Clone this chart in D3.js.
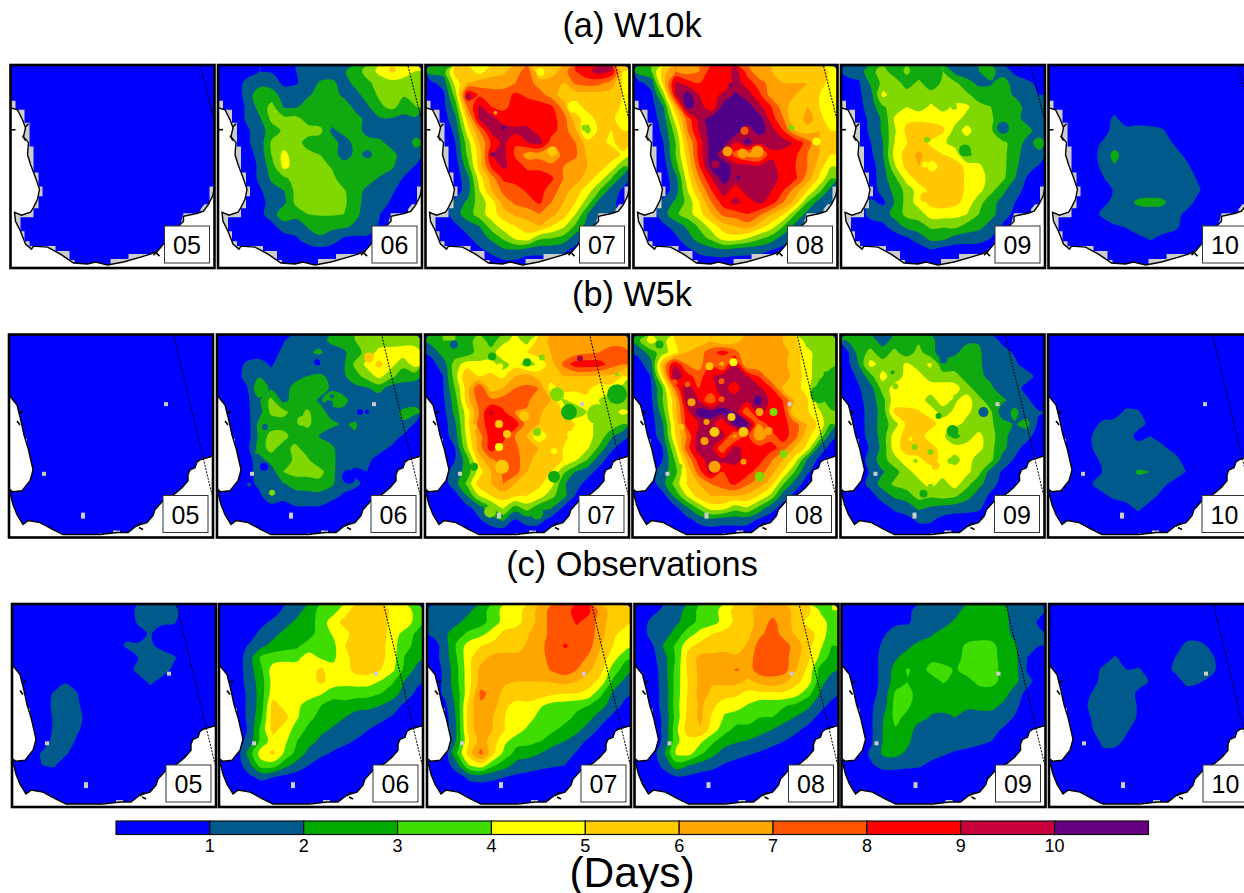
<!DOCTYPE html>
<html>
<head>
<meta charset="utf-8">
<script src="https://cdn.jsdelivr.net/npm/d3@7"></script>
<style>
html, body { margin: 0; background: #fff; overflow: hidden; }
text { font-family: "Liberation Sans", Arial, sans-serif; fill: #000; }
</style>
</head>
<body>
<div id="display"></div>
<script>
const titles = ['(a) W10k', '(b) W5k', '(c) Observations']
const days = ['05', '06', '07', '08', '09', '10']
const levels = [1, 2, 3, 4, 5, 6, 7, 8, 9, 10]
const barTicks = ['1', '2', '3', '4', '5', '6', '7', '8', '9', '10']
const barUnit = '(Days)'

// days with rain on a 17x17 grid; rows may stop early, the rest is below 1 day
const w10k_05 = [[]]
const w10k_06 = [
[.5,.5,.5,1,.9,.9,1,1.5,1.5,1.5,1.9,2.5,3.5,4.3,5.2,4.6,4],
[.5,.5,1.4,1.6,1.5,.8,.9,1.5,2.1,2.2,1.6,2.3,2.8,3.5,3.6,3.5,3],
[.5,.5,1.5,2.8,2.5,1.5,1.6,1.9,2.3,2.4,1.8,1.7,2.5,3.2,3.5,3.1,3],
[.5,.5,1.2,2.5,3.3,1.9,1.9,2.4,2.4,2.5,2.5,1.7,1.9,2.8,3.3,2.5,3],
[.5,.5,1.2,1.9,3.3,3.3,3.3,2.6,2.4,2.5,2.5,2.3,1.7,1.9,1.9,1.7,1.8],
[.5,.5,.9,1.6,2.5,3.2,3.4,3.4,3.3,1.8,2.3,2.3,1.7,1.5,1.4,1.5,1.6],
[.5,.5,.9,1.5,3.2,3.5,3.4,2.6,2.4,2.4,1.6,2.3,2.3,2.2,1.6,1.4,2.3],
[.5,.5,.6,1.4,3.1,4.3,3.4,3.3,3,2.4,1.6,2.2,1.8,2.4,2.3,1.5,1.6],
[.5,.5,.5,1.2,2.6,4.3,3.6,3.5,3.4,2.9,2.4,2.4,2.4,2.4,2.1,1.5,.9],
[.5,.5,.5,1.2,2.2,2.8,3.4,3.5,3.5,3.3,2.4,2.4,2.3,1.9,1.6,.9,.6],
[.5,.5,.5,.9,1.6,2,3.3,3.4,3.5,3.4,3.1,2.3,1.8,1.5,1.1,.7],
[.5,.5,.5,.6,1.5,1.7,3.3,3.5,3.5,3.4,3.2,2.3,1.6,1.3,.9],
[.5,.5,.5,.8,1.4,2.9,2.3,3,3.1,3.1,3,2.2,1.5,1,.6],
[.5,.5,.5,.5,.8,1.4,1.5,2.1,2.3,2.2,2.2,1.8,1.6,.8],
[.5,.5,.5,.5,.5,.7,.9,1.6,1.9,1.6,.9,.8,.8],
[.5,.5,.5,.5,.5,.5,.5,.5,.7],
[]]
const w10k_07 = [
[2.5,2.5,5.5,5.5,4.5,5.5,5.8,6.5,7.5,5,5.5,6.5,8,8.8,9.5,9,5],
[.8,1.4,4.5,6,6.5,6.5,6.5,7,7.5,6.5,6.5,6,7.2,7.5,7.3,6.5,4.8],
[.5,.8,3.5,9,7.8,7.5,7.5,8.2,7.8,7.5,6.5,5.5,5.5,5.5,5.5,5.5,5],
[.5,.7,2.5,7,9.2,8,7.8,8.3,8.5,8.4,8.2,6.5,4.5,5.5,5.5,5.5,4.8],
[.5,.5,1.8,5.5,9.2,9.5,8.4,8.4,8.5,8.3,8.4,7.5,5.5,4.4,5.5,5.3,4.3],
[.5,.5,1.2,4.5,7,9.3,9.6,9.3,9.3,8.5,8.4,7.5,6.2,3.5,5.4,5,5],
[.5,.5,1,3.5,6,8.2,9.3,8.1,9,9.5,7.5,7.5,7,5.5,5.3,4.8,5.5],
[.5,.5,.8,3.2,5.5,9,9.3,7.8,6.5,6.5,6.2,7.3,7.2,5.8,5.5,5.5,4.8],
[.5,.5,.5,2.5,5.5,8.2,9.2,8.5,7.8,7.8,7.3,7,6.5,6,5.5,4.6,3],
[.5,.5,.5,1.6,4.5,6.5,8.2,8.5,8.5,8.4,8.2,7,6.5,5.5,4.5,3,1.5],
[.5,.5,.5,1.5,4,6,7.3,7.5,8.2,8.4,7.5,6.5,5.5,4.5,3,1.5,.8],
[.5,.5,1.3,2.2,3.5,4.5,6.5,7.2,7.5,8.2,7,6,5,3.5,1.6,1.2,.7],
[.5,.5,1.6,2.5,3.5,4.5,5.5,6.2,6.5,7,6.3,5.5,4,2,1.4,1.2,.6],
[.5,.5,.8,1.5,2,3.5,4.5,5,5.5,6,5,4.2,2.8,1.6,.8],
[.5,.5,.5,.8,1.5,2.2,3.2,4.2,4.6,3.2,3,2.6,1.5],
[.5,.5,.5,.5,.8,1.3,1.8,1.9,1.5,1.4,1.4,1.2,.7],
[.5,.5,.5,.5,.5,.5,.8,.8]]
const w10k_08 = [
[2.5,3,5.5,7,6.5,7,8.5,8.2,9.5,7.5,6,6,5,5.5,5.5,6,4.6],
[.8,1.4,5.5,9.2,8.5,8,8.5,8,9.5,8.5,7.5,6.5,6,6,6,5.5,4.5],
[.5,.8,3.5,9,10.5,9,8.5,9.3,10.2,9.5,8.2,6.5,6.2,6,5.5,5,4.5],
[.5,.6,2,6,10.5,9.5,8.2,10.5,10.5,10.5,9.3,8,6.3,5.5,6,5,4.3],
[.5,.5,1.5,4.5,7.5,9.5,10.5,10.5,10.5,10.5,10.5,8.5,7,5,6.5,5.5,4],
[.5,.5,1.2,3.5,7,9.2,10.5,10.5,10.5,9.5,10.5,9.5,8,6,5.5,6,5],
[.5,.5,1,3,6,8.5,10.5,10.5,9,10.4,9.2,9.3,9.5,8.8,7.5,6,5.5],
[.5,.5,.8,3,5.5,8.5,10.5,9.5,7.5,6.5,6.5,8.8,8.5,8.2,7,6,5],
[.5,.5,.5,2.5,5,8,10.4,10.5,9.6,9.5,9.2,9.3,8.5,8,7,5.5,4],
[.5,.5,.5,1.6,4.5,7,9,10.5,9.5,10,9.5,9.5,8.6,8.2,6.5,4.8,3],
[.5,.5,.5,1.5,4,6,8,9.5,8.5,9.5,9.5,9,8,6.5,5,3.3,1.5],
[.5,.5,1.3,2.2,3.3,5,7,8.5,9.3,8.5,9.3,8.5,7,5.5,3,1.5,1.2],
[.5,.5,1.6,2.8,3.5,4.6,6,7.3,7.5,8,7.2,6,5,3,1.6,1.2,.8],
[.5,.5,.8,1.4,2.2,3.2,4.5,5.5,6,6.5,5.5,4.5,3,1.6,1],
[.5,.5,.5,.8,1.6,2.5,3.3,4.5,4.6,4,3.2,2.5,1.5,.7],
[.5,.5,.5,.5,.8,1.3,1.6,1.8,1.5,1.4,1.3,1,.7],
[]]
const w10k_09 = [
[1.5,1.4,2.8,3.3,2.5,3.2,2.4,2.5,3,1.6,1.5,2,2.4,1.4,.8,.7,.6],
[.5,.9,2.2,3.3,3.4,2.6,3.2,2.4,3.2,3.2,2.3,1.8,1.9,2.6,1.4,1.1,.9],
[.5,.8,1.7,4.3,3.4,3.4,3.5,3.4,3.4,3.4,3.2,2.5,2.4,2.3,1.9,1.5,1],
[.5,.7,1.5,2.9,3.4,4,3.5,4.2,3.6,4.2,4.2,3.3,3,2.6,2.4,1.7,1.4],
[.5,.5,1.3,2.2,4.2,4.8,4.8,4.6,4.6,4.4,3.6,3.3,3.2,2.2,2.3,1.7,1.4],
[.5,.5,1.2,2.2,3.9,5.3,5.6,5.7,5.2,3.6,4.3,3.5,3.2,1.7,2.4,2.3,1.6],
[.5,.5,1,2,4.1,5,5.5,4.8,4.2,3.5,3.6,3.4,3.3,3.2,2.6,1.7,2.3],
[.5,.5,.8,2,4.4,5.5,6.2,5.4,5,4.6,2.7,3.4,3.4,3.3,2.3,1.6,1.8],
[.5,.5,.6,1.6,3.9,5.4,6,4.6,5.3,5.5,4.7,4.2,3.4,3.3,2.2,1.4,.9],
[.5,.5,.5,1.6,2.8,4.5,5.4,5.5,5.7,5.6,4.8,4.6,3.5,3.2,2,.9,.6],
[.5,.5,.5,1.4,2.3,3.4,4.5,5.3,5.6,5.8,4.7,4.3,3.3,2.2,1.4,.7],
[.5,.5,1.2,.8,2.1,3.4,4.5,5.3,5.5,5.3,4.6,3.4,2.3,1.7,1],
[.5,.5,1.4,1.5,2.4,3.3,3.5,4.5,4.5,4.3,4,3,2.3,1.5,.7],
[.5,.5,.5,.8,1.5,2.3,2.6,3.2,3.1,3.3,2.6,2.3,1.6,.8],
[.5,.5,.5,.5,.5,.9,1.5,2.3,2.3,1.6,1.5,1.4,1],
[.5,.5,.5,.5,.5,.5,.5,.9],
[]]
const w10k_10 = [[],[],[],[],
[.5,.5,.5,.5,.5,1.2],
[.5,.5,.5,.5,.5,1.4,1.3,1.4,1.3,1.1],
[.5,.5,.5,.5,1.1,1.5,1.5,1.5,1.5,1.4,.9],
[.5,.5,.5,.5,1.4,2.3,1.5,1.5,1.5,1.5,1.3,.8],
[.5,.5,.5,.5,1.2,1.9,1.6,1.5,1.5,1.5,1.5,1.2],
[.5,.5,.5,.5,.9,1.5,1.5,1.5,1.5,1.5,1.5,1.4,.9],
[.5,.5,.5,.5,.5,1.1,1.5,1.5,1.5,1.5,1.5,1.5,1.1],
[.5,.5,.5,.5,.8,1.2,1.7,2.2,2.3,2.2,1.5,1.4,.7],
[.5,.5,.5,.5,1.2,1.5,1.5,1.5,1.5,1.5,1.3,.8],
[.5,.5,.5,.5,.5,.9,1.1,1.5,1.5,1.4,1.3],
[.5,.5,.5,.5,.5,.5,.5,.8,1.1,.8],
[],[]]

const w5k_05 = [[]]
const w5k_06 = [
[.5,.5,.5,.6,.6,.9,1.5,1.4,1.6,2.2,2.5,3,3.4,3.5,3.4,3.5,3.4],
[.5,.5,.5,.5,.6,1.2,1.4,1.8,2.2,1.5,1.8,2.5,3.4,4.3,4.5,4.6,4.6],
[.5,.5,1.2,1.4,.9,1.4,1.6,1.4,.9,1.6,1.8,3.2,4.3,5.3,4.4,3.3,4.5],
[.5,.5,1.4,1.9,1.3,1.2,1.7,2,2.3,1.7,1.8,2.6,3.4,4.3,3.3,2.4,2.3],
[.5,.5,.9,2.8,1.8,1.6,2.3,2.6,2.4,1.9,1.5,1.7,1.9,2.4,1.5,1.6,1.5],
[.5,.5,.8,1.8,3.3,1.7,2.4,2.4,1.9,2.3,2.4,1.4,1.3,1.4,1.4,1.4,1.6],
[.5,.5,.8,1.6,3.2,3.4,2.4,3.2,2.4,1.7,1.7,1.5,.9,1.4,1.5,2.2,2.3],
[.5,.5,.5,2.3,2.4,2.4,2.2,3.4,2.2,2.2,1.9,2.1,1.5,1.4,1.4,1.9,.9],
[.5,.5,.5,2.2,3.4,3.5,2.4,2.2,2,1.6,1.5,1.9,1.9,1.4,1.5,.9],
[.5,.5,.7,2.4,3.4,2.5,3.3,2.5,2.4,2.2,1.5,1.6,1.5,1.3,.9],
[.5,.5,.5,1.6,2.4,2.4,3.2,3.2,2.2,2.3,1.5,1.4,1.2,.7],
[.5,.5,.7,1.3,1.4,3,3.4,3.5,3.5,2.3,1.4,.8,1,.6],
[.5,.5,.5,1.3,1.6,1.9,2.4,2.3,2.6,2.2,1.4,1.3,.6],
[.5,.5,.5,.7,2,1.4,1.6,1.8,1.7,1.4,.9],
[.5,.5,.5,.5,.5,.5,.9,.9,.9],
[],[]]
const w5k_07 = [
[2.5,3,3,2.5,3.5,2.6,3.5,4.5,3.5,5.5,6.2,6.8,6.4,6.2,6.5,6.5,6.6],
[1.2,2.5,2.3,2.4,3.5,3.3,5,4.5,5,5.5,6,6.3,6.5,6.8,7,7.5,7.3],
[.7,1.4,3.5,4.5,4.2,4.5,3.4,4.6,3.4,4.3,5.5,7.2,8.5,8.6,8.5,7.5,7],
[.5,1,3.5,6,5,5.2,4.8,6,6.5,5.5,5.5,6,6,6,5.8,5.8,5],
[.5,.9,3,5.5,8,5.5,6,7,7.2,7,4.5,5.5,5.2,5.2,4.6,4.6,3.5],
[.5,.8,2.5,5.5,7.5,7.3,7.5,7.1,7.3,6,6,3.8,4.5,4.8,4,3.2,3],
[.5,.6,2.3,4.5,7,9.2,8.2,7,6.8,6.2,5.5,5,3,4,4.5,3.5,4.3],
[.5,.5,1.8,4.5,7.5,8.5,8.3,8.7,6.5,6,5.8,5.5,5,4.6,3.5,3.8,3],
[.5,.5,1.5,4.3,6.5,8.6,8.5,7,6,4,5.5,5.2,4.8,4.2,3.8,2.2,1.3],
[.5,.5,1,3.8,6.5,8.5,7.5,7.2,6.5,6,5.5,5,4.6,4.2,2.8,1.2,.6],
[.5,.5,1,2.5,5.5,6.8,7.5,7.5,6.3,5.6,5.5,5,4.2,3,1.4,.6],
[.5,.5,1.5,2.4,4.5,6,7.2,7.5,6,5.6,5,3.3,2,1.4,.7],
[.5,.5,1.6,3.2,5.5,6,7,6,5.6,5.2,4.5,2.2,1.4,.7],
[.5,.5,.6,2,4,5,5.5,5.2,5,4.6,3.3,2.4,1],
[.5,.5,.5,.7,1.5,2.8,4.2,2.5,3.5,2.3,2.1,.9],
[.5,.5,.5,.5,.9,1.6,2.2,1,1.5,1.4,.7],
[]]
const w5k_08 = [
[2.8,4.5,3.5,5,5,5.5,6,5,5.5,6.5,6.5,6.3,6,5.5,3.4,3.3,3.5],
[1.2,2.5,3.5,4.6,6,6.5,7.5,8.5,7.5,6,6,7,6.5,5.5,4.5,3.4,3.3],
[.7,1.5,6,9,7,6.5,8,6.5,9.5,6,6,6.5,6.3,5.5,4.5,3.4,3.3],
[.5,1,5,10,8.5,7.5,8.8,9.5,9.4,9.2,8,6.2,6.5,5.7,4.6,3.3,2.5],
[.5,.8,3,7,10,8,8.6,9.4,8.5,9.6,9.3,8.2,6,5.5,4.6,2.6,2.4],
[.5,.7,3,5.5,9.5,9,7,9.3,9.5,9.3,10.5,8.7,8,6,5.2,3.5,2.4],
[.5,.5,2.5,5.5,8.5,10.5,10.5,10.4,10,7,9.5,8.3,8.7,5,5.2,4.2,3.2],
[.5,.5,1.8,5,8.3,9,9.6,8,10.4,10.5,7,8.5,8.4,7.5,6,4.8,3],
[.5,.5,1.5,4.8,7,9.6,9.4,9.6,6.5,8.5,6,7.5,8.5,7.5,5.5,4,1.5],
[.5,.5,1,3.8,7.5,9.5,9.7,7,9.5,8.5,8.5,8.5,7.5,6,4.8,1.8,.6],
[.5,.5,1,3,6,8.5,9.5,9.3,9.5,8.5,8.5,7.2,6,4.6,2,.8],
[.5,.5,1.6,2.5,5,7.5,9.3,8,8.3,8.5,7.5,6.5,5,3,1.2],
[.5,.5,1.6,3.3,5,6,7,7.6,8.2,7.2,6.5,5.5,3.2,1.6,.6],
[.5,.5,.6,2.2,4,5.5,6,6,6,5.8,5,3.8,1.6,.7],
[.5,.5,.5,.7,1.8,3.2,4.5,4.5,3.5,4,2.8,1.5,.6],
[.5,.5,.5,.5,.7,1.3,1.8,1.5,1.5,1.5,.9],
[]]
const w5k_09 = [
[2,2.4,2.4,1.6,2.3,2.3,2.8,2.3,1.5,1.5,1.9,1.9,1.4,.8],
[.7,2.4,3.3,2.4,3.3,2.4,3.4,2.3,1.6,1.9,2.2,2.2,1.4,1.3,.9],
[.6,2,4.4,3.5,3.3,4.2,3.5,4.2,2.4,2.3,2.1,2.2,1.5,1.5,1.2,.6],
[.5,1.2,2.6,4.4,3.4,4.3,4.4,3.5,3.4,3.5,2.4,2.2,1.8,1.5,1.5,1.4,.7],
[.5,.9,1.6,3.4,4.4,4.5,4.6,4.6,4.6,4.4,3.5,2.4,2.2,1.5,1.4,.7],
[.5,.7,1.5,2.6,4.6,4.5,4.6,3.5,4.5,3.8,4.5,3.4,2.4,2.2,1.5,1.2],
[.5,.6,1.4,2.4,5.2,5.3,5.1,4.6,3.5,4.2,4.3,3.4,3.2,1.4,2.3,1.4,1.1],
[.5,.6,1.4,2.5,3.5,5.2,5.5,5.4,4.6,4.5,3.6,3.4,3.2,2.4,1.9,2.4,.8],
[.5,.5,1.4,2.4,4.5,5.4,5.5,4.5,4.4,2.5,3.5,4.3,3.4,2.4,1.5,1.4],
[.5,.5,1.1,2.3,4.5,5.5,5.5,5.4,4.6,4.6,4.4,4.4,3.3,2.3,1.4,.6],
[.5,.5,1.4,2.6,3.6,4.6,4.8,5.3,4.8,3.5,4.6,3.4,3.3,1.6,.9],
[.5,.5,1.1,1.9,2.6,3.6,4.5,4.6,4.6,4.6,4.3,3.4,1.6,.9],
[.5,.5,1.4,2.4,3.2,3.5,3.6,4.5,3.5,4.5,3.4,2.3,1.5,.6],
[.5,.5,.6,1.5,2.2,2.5,3.4,3.2,3.4,3.2,2.4,1.6,.8],
[.5,.5,.5,.6,1.2,1.5,2.2,1.9,1.7,1.5,1.4,1.2],
[.5,.5,.5,.5,.5,.7,1.2,1.2,.7],
[]]
const w5k_10 = [[],[],[],[],[],[],
[.5,.5,.5,.5,.5,.5,1.2,1.1],
[.5,.5,.5,.5,1.2,1.4,1.4,1.3,.8],
[.5,.5,.5,.9,1.5,1.5,1.5,.7,1,.6],
[.5,.5,.5,.9,1.4,1.6,1.5,1.4,1.5,1.2,.7],
[.5,.5,.5,.5,1.2,1.5,1.5,1.5,1.5,1.5,1.4,.6],
[.5,.5,.5,.5,1,1.4,1.5,2.1,2,1.5,1.4,1],
[.5,.5,.5,.9,1.4,1.5,1.7,1.7,1.4,1.2,.8],
[.5,.5,.5,.5,.8,1.2,1.4,1.4,1.3,.8],
[.5,.5,.5,.5,.5,.5,.7,1.2,.7],
[],[]]

const obs_05 = [
[.5,.5,.5,.5,.5,.5,.5,.5,.5,.5,1.2,1.4,1.1,1.3],
[.5,.5,.5,.5,.5,.5,.5,.5,.5,.5,1.1,1.4,1.2,1.1],
[.5,.5,.5,.5,.5,.5,.5,.5,.5,.8,.7,1.1],
[.5,.5,.5,.5,.5,.5,.5,.5,.5,1.1,1.1,1.2,.7],
[.5,.5,.5,.5,.5,.5,.5,.5,.5,.5,1,1.4,1.5,1.1],
[.5,.5,.5,.5,.5,.5,.5,.5,.5,.5,1.3,1.5,1.4,.8],
[.5,.5,.5,.5,.9,.5,.5,.5,.5,.5,.5,1.2,.7],
[.5,.5,.5,1.1,1.5,1],
[.5,.5,.5,1.2,1.5,1.1],
[.5,.5,.5,1.1,1.5,1.3],
[.5,.5,.5,1.1,1.5,1.1],
[.5,.5,.5,1.3,1.5,.8],
[.5,.5,1.1,1.5,1.1],
[.5,.5,1,1.1],
[],[],[]]
const obs_06 = [
[.5,.5,.5,.5,.5,1.2,1.5,2.5,3.3,3.5,4.6,5.5,5.5,5.4,4.8,4.6,3.5],
[.5,.5,.5,.7,1.2,1.5,2.3,2.6,3.4,4.6,5.3,5.5,5.5,5.5,4.6,4.7,3.5],
[.5,.5,.5,1.3,1.6,2.4,2.5,2.6,3.5,4.1,4.7,5.5,5.5,5.5,4.5,3.6,2.8],
[.5,.5,1.1,1.7,2.4,2.6,2.8,3.5,3.5,3.7,5,5.5,5.5,5.4,4.3,3.4,2.6],
[.5,.5,1.5,3.2,3.5,3.7,3.8,4.4,3.9,3.8,4.7,5.5,5.5,5.3,4.4,2.9,2.3],
[.5,.5,1.5,2.8,4.5,4.6,4.4,4.5,5.2,4.3,4.6,5.4,5.4,5,4.2,2.7,1.7],
[.5,.5,1.4,2.5,4.4,4.5,4.6,4.6,5.2,4.6,4.3,4.4,4.4,3.9,3.1,1.9,1.2],
[.5,.5,1.2,2.5,4.6,4.2,4.3,4.4,4.1,3.4,3.5,3.4,3.3,3,2.5,1.5,.8],
[.5,.5,1.2,2.5,5.4,4.7,4.2,3.6,3,2.6,2.6,2.4,2.3,2,1.4,.8],
[.5,.5,1.2,2.8,5.5,5.3,4.1,3.3,2.6,2.3,2,1.5,1.4,1.2,.9],
[.5,.5,1.1,3.3,5.4,4.5,3.6,2.7,2.2,1.9,1.4,1.3,1,.7],
[.5,.5,1.4,3.3,4.5,4.2,3,2.3,1.8,1.4,1.2,.9,.7],
[.5,.5,2.4,4.5,5.2,3.8,2.6,1.7,1.2,.9,.6],
[.5,.5,1.6,3.5,3.5,2.3,1.6,1,.6],
[.5,.5,.8,1.2,1,.7],
[],[]]
const obs_07 = [
[1.5,1.4,1.4,1.8,2.5,3.5,4.4,4.6,5.5,6.4,7.5,7.7,8.3,8.2,6.5,5.5,5.5],
[1.5,1.4,1.8,2.4,2.6,3.5,4.4,4.7,5.5,6.5,7.5,7.6,8.1,7.7,6.4,5.5,5.4],
[1.2,1.8,2.6,3.2,3.7,4.5,5.3,5.5,6,6.5,7.5,7.6,7.7,7.6,6.3,5.3,4.5],
[.5,1.5,3.2,4.5,5,5.3,5.5,5.6,6.2,6.8,7.5,8.1,7.7,7.4,6,5,4.5],
[.5,1.5,3,4.8,5.6,6.3,6.4,6.3,6.5,6.8,7.3,7.6,7.6,6.8,5.6,4.5,3.2],
[.5,1.2,2.8,4.7,6.4,6.5,6.4,6.4,6.4,6.5,7.2,7.6,7,6.2,5.3,3.5,2.6],
[.5,1.2,2.8,4.7,6.4,6.5,6.2,6,6,6,6.1,6.3,6,5.5,4.6,2.8,1.7],
[.5,1.2,2.5,4.8,7.3,6.6,5.6,5.6,5.6,5.5,5.2,5,5,4.6,3.2,1.8,1.2],
[.5,.8,2.3,5.5,6.8,6.4,5.2,4.6,4.7,4.1,3.6,3.5,3.3,3,2.4,1.4,.8],
[.5,.5,2.2,5.6,6.6,6,5,4.5,4.4,3.5,3.4,3.4,2.7,2.3,1.4,.8],
[.5,.5,2.1,5.5,6.7,6,5,4.5,3.7,3.3,3.2,2.6,2.3,1.5,.8],
[.5,.5,2.2,5,6.5,5.5,4.2,3.4,3.3,3,2.3,2,1.4,.8],
[.5,.5,3,5.5,7.3,5.2,3.6,2.6,2.4,2,1.6,1.4,.9],
[.5,.5,1.6,4,4.6,3.2,2.4,1.6,1.4,1.2,1.1,1,.7],
[.5,.5,.6,1.2,1.4,1.2,1,.8,.7,.6],
[],[]]
const obs_08 = [
[.5,.7,1.2,1.5,2.4,3.3,3.5,4.5,5.4,5.6,6.6,6.6,6.5,5.5,5.3,3.8,4],
[.5,1.3,1.5,1.8,2.6,3.3,3.6,4.4,5.3,5.5,6.6,7.2,6.6,5.5,4.7,4.5,3.5],
[.5,1.4,1.5,2.5,3.5,4.4,5,5.3,5.4,5.8,6.8,7.5,6.6,5.8,5.4,4.6,3.3],
[.5,.9,2.2,3.2,4.8,5.3,5.4,5.7,5.5,6.2,7.5,7.8,7.4,6.5,5.3,4.2,3],
[.5,.7,1.7,3.2,5.4,6.3,6.4,6.3,6.2,6.6,7.6,7.7,7.4,6.3,5.2,3.7,2.5],
[.5,.5,1.6,3.4,5.3,6.3,6.4,6.5,7.1,6.6,7.6,7.4,7.4,6,4.7,2.6,2.2],
[.5,.5,1.5,3.5,5.1,6.3,6.1,6.2,6.3,5.8,6.3,6.7,6.2,5.3,4.4,2.4,1.4],
[.5,.5,1.4,3.5,5.2,6.4,5.8,5.6,5.2,4.7,4.8,4.8,4.8,4.4,3.3,1.9,1.3],
[.5,.5,1.4,3.6,5.3,6.2,5.3,4.3,4.4,3.9,3.3,3.3,3.1,2.7,2.2,1.3,.7],
[.5,.5,1.2,3.5,5.4,6.2,4.8,3.9,3.5,3.4,3,3,2.4,1.9,1.4,.7],
[.5,.5,1.2,3.8,5.6,5.9,4.5,3.4,2.7,2.7,2.4,2,1.5,1.2,.7],
[.5,.5,1.2,3.8,4.6,4.2,3.2,2.4,2.1,1.9,1.5,1.3,1,.6],
[.5,.5,2,4.2,4.4,3.2,2.3,1.6,1.4,1.1,.9,.6],
[.5,.5,1.3,2.6,2,1.6,1.3,.9,.6],
[.5,.5,.6,.9,.8,.6],
[],[]]
const obs_09 = [
[.5,.5,.5,.5,.5,.8,1.3,1.4,1.4,1.6,2.4,2.4,2.4,2.3,1.4,1.4,1.2],
[.5,.5,.5,.5,.8,.9,1.3,1.4,1.6,2.2,2.4,2.4,2.4,2.3,1.6,1.3,.9],
[.5,.5,.5,.9,1.4,1.4,1.5,1.9,2.4,2.5,2.5,2.5,2.5,2.4,1.7,1.4,1.1],
[.5,.5,.5,1.2,1.5,1.8,2.3,2.4,2.5,2.6,3.2,3.4,3.3,2.5,2.1,1.3,1],
[.5,.5,.5,1.4,1.9,2.4,2.5,2.8,2.6,2.7,3.3,3.5,3.4,2.6,2.2,1,.6],
[.5,.5,.5,1.4,2.3,3.1,2.6,3.3,3.3,2.9,3.4,3.3,3.4,2.7,2.3,.9],
[.5,.5,.5,1.4,2.4,3,2.5,2.6,3.1,2.6,2.7,3.3,3.4,2.6,2.2,1.3],
[.5,.5,.7,1.4,3.2,3.4,2.5,2.4,2.4,2.4,2.4,2.5,2.4,2.4,1.5,.7],
[.5,.5,.9,1.5,3.4,3.2,2.4,2.3,2.3,2.3,2.2,2.2,2.3,1.8,1.2],
[.5,.5,.9,2,3.3,2.7,2.3,1.9,1.8,2,1.6,1.7,1.6,1.4,.9],
[.5,.5,.9,2.1,2.9,2.4,1.6,1.4,1.4,1.4,1.4,1.4,1.3,.9],
[.5,.5,.9,2.1,2.3,2.2,1.4,1.4,1.4,1.4,1.3,1.2,1],
[.5,.5,1.2,2.2,2.3,1.8,1.4,1.3,1.1,.9,.8,.6],
[.5,.5,.9,1.3,1.3,1.2,1.1,.8,.6],
[],[],[]]
const obs_10 = [[],[],[],
[.5,.5,.5,.5,.5,.5,.5,.5,.5,.5,.5,1.3,1.3,.8],
[.5,.5,.5,.5,.5,1.1,.6,.5,.5,.5,1,1.5,1.5,1.2],
[.5,.5,.5,.5,1.2,1.5,1,1.1,.5,.5,1.2,1.5,1.5,1.3],
[.5,.5,.5,.5,1.4,1.5,1.3,1.3,.9,.5,.5,1.3,1.1,.7],
[.5,.5,.5,1,1.5,1.5,1.4,.8],
[.5,.5,.5,1.2,1.5,1.5,1.4,.9],
[.5,.5,.5,1,1.5,1.5,1.3,.9],
[.5,.5,.5,.9,1.5,1.5,1.1,.6],
[.5,.5,.5,.5,1.2,1.3,.8],
[.5,.5,.5,.5,.8,.7],
[],[],[],[]]

const fields = [
    [w10k_05, w10k_06, w10k_07, w10k_08, w10k_09, w10k_10],
    [w5k_05, w5k_06, w5k_07, w5k_08, w5k_09, w5k_10],
    [obs_05, obs_06, obs_07, obs_08, obs_09, obs_10]
]

// small pockets the grid is too coarse for: map x, map y, map radius, days
const pockets_w10k_07 = [[159,63,3,3.3],[78,63,2,10.5],[43,32,3,9.5],[67,90,2,10.5],[148,42,6,4.5],[127,87,5,5.5],[115,7,4,4.5],[70,48,2,6.5],[186,77,3,4.5]]
const pockets_w10k_08 = [[94,87,5,6.5],[109,89,5,6],[124,87,6,6],[111,66,4,7.5],[82,100,4,9.5],[158,63,3,3.5],[97,20,2,10.5],[183,77,4,4.7],[105,113,2,10.5]]
const pockets_w10k_09 = [[162,63,6,1.5],[124,86,6,2.5],[84,100,3,4.5],[86,75,3,3],[113,42,3,3.5],[84,133,5,5.5],[163,16,3,2.5],[141,113,2,4.5]]
const pockets_w5k_06 = [[100,28,3,.7],[48,93,3,1.5],[47,133,4,.8],[132,143,7,.8],[143,78,3,.8],[142,105,8,1.5],[55,159,3,3.5],[85,87,5,3.3],[112,70,4,1.5],[115,62,2,1.5],[152,23,5,5.5],[40,118,2,2.5],[32,151,2,1.5]]
const pockets_w5k_07 = [[102,28,4,2.5],[75,32,3,4.5],[117,23,3,3.5],[67,22,4,2.5],[29,10,4,1.5],[39,8,4,2.5],[132,60,7,3.5],[144,78,8,2.5],[112,98,4,3.5],[99,82,5,5.5],[74,90,4,5.5],[82,100,4,5.5],[74,113,4,4.5],[49,93,3,5.5],[77,133,7,5.5],[129,143,6,2.5],[49,133,4,2.5],[155,24,3,9.5],[192,40,2,3.5],[192,60,10,2.5],[172,80,10,3.5],[145,100,3,4.5],[129,117,3,4.5],[112,180,6,2.5],[65,178,6,3.5]]
const pockets_w5k_08 = [[42,48,3,7.5],[55,50,3,7.5],[59,68,4,6.5],[89,47,3,7.5],[89,65,3,7.5],[99,83,4,5.5],[74,88,3,6.5],[82,98,5,5.5],[111,98,5,5.5],[127,78,4,6.5],[72,107,4,6.5],[49,93,3,5.5],[136,97,4,6.5],[82,133,6,6.5],[111,128,3,6.5],[141,78,4,3.5],[151,120,4,3],[127,143,5,3.2],[27,10,4,2.5],[101,28,4,4.5],[77,32,4,5.5],[47,133,3,3.5],[194,40,3,2.5],[187,60,9,2.5]]
const pockets_w5k_09 = [[90,64,3,3],[98,82,3,2.7],[115,62,2,3.5],[112,97,6,2.5],[90,118,3,3.5],[74,113,3,3.5],[110,127,3,3],[70,105,2,4.5],[52,38,2,2.7],[37,25,3,3],[55,52,3,3],[75,127,2,3.3],[90,153,3,3.3],[143,78,5,1.5],[83,160,4,2.5],[103,25,4,1.5],[95,132,4,5.3]]
const pockets = [
    [[], [], pockets_w10k_07, pockets_w10k_08, pockets_w10k_09, []],
    [[], pockets_w5k_06, pockets_w5k_07, pockets_w5k_08, pockets_w5k_09, []],
    [[], [], [], [], [], []]
]

// map geometry in map units, 0-204 across each panel
const coastCoarse = [[0,43],[7,45],[12,55],[15,63],[13,72],[18,78],[17,90],[20,100],[25,113],[29,125],[27,135],[23,143],[20,148],[11,151],[4,148],[5,157],[10,167],[15,180],[21,185],[23,182],[37,183],[50,190],[63,199],[77,200],[85,198],[97,201],[113,198],[130,193],[140,190],[147,187],[153,180],[165,165],[173,157],[173,152],[187,149],[193,147],[198,140],[202,132],[204,123]]
const missingCoarse = [[0,36],[5,36],[5,45],[14,45],[14,58],[19,58],[19,82],[23,82],[23,108],[28,108],[28,122],[32,122],[32,132],[28,132],[28,144],[23,144],[23,153],[10,153],[10,167],[14,167],[14,177],[19,177],[19,182],[45,182],[45,187],[59,187],[59,196],[64,196],[64,200],[100,200],[100,195],[118,195],[118,190],[140,190],[150,185],[170,160],[173,149],[190,149],[190,145],[194,140],[199,140],[199,122],[204,122],[204,204],[0,204]]
const coastFineNorth = [[0,62],[1,62],[8,71],[12,87],[15,101],[19,114],[24,136],[21,147],[13,157],[4,158],[1,156],[0,156]]
const coastFineSouth = [[0,159],[1,159],[4,171],[8,181],[14,191],[19,187],[31,189],[44,196],[54,201],[71,201],[91,201],[108,199],[119,199],[128,192],[138,189],[144,182],[146,176],[154,167],[166,160],[173,154],[179,147],[179,141],[181,136],[186,134],[188,128],[191,126],[204,122]]
const missingFine = [[[12,105],[18,105],[18,116],[20,116],[20,122],[16,122]],[[104,197],[111,197],[111,202],[104,202]],[[90,200],[94,200],[94,202],[90,202]]]
const stations = [[155,68,159,72],[33,138,37,142],[72,179,76,185]]
const islandsCoarse = [[[15,62],[18,59]],[[1,65],[5,65]],[[12,71],[15,76]],[[143,191],[147,187]],[[146,189],[149,192]]]
const islandsFine = [[[10,80],[14,77]],[[8,87],[11,91]],[[128,193],[132,189]],[[130,194],[134,196]]]
const trackCoarse = [[190,1],[203,53]]
const trackFine = [[165,2],[203,161]]

const paletteModel = ['#0000ff','#005a8c','#10aa10','#80d800','#ffff00','#ffc800','#ffa000','#ff5500','#ff0000','#a80040','#500088']
const paletteBar = ['#0000ff','#005a8c','#00aa00','#40dd00','#ffff00','#ffcc00','#ffa500','#ff5500','#ff0000','#c8003c','#64007f']

const width = 1244, height = 893
const panelW = 204, panelH = 203
const panelLeft = [
    [10.5, 218, 425.5, 633.5, 841, 1048.5],
    [9, 217, 425, 632.5, 840.5, 1048],
    [12, 219, 427, 634.5, 841.5, 1049]
]
const panelTop = [65, 334.5, 604]
const titleY = [37, 306, 576]

const svg = d3.select('#display').append('svg')
    .attr('width', width)
    .attr('height', height)
    .style('display', 'block')

svg.append('defs').append('clipPath')
    .attr('id', 'panel-clip')
    .append('rect')
    .attr('width', panelW)
    .attr('height', panelH)

const mapX = d3.scaleLinear().domain([0, 204]).range([0, panelW])
const mapY = d3.scaleLinear().domain([0, 204]).range([0, panelH])
const mapLine = d3.line().x(d => mapX(d[0])).y(d => mapY(d[1]))

function drawPanel(g, grid, row, col) {
    const palette = row < 2 ? paletteModel : paletteBar
    const clipped = g.append('g').attr('clip-path', 'url(#panel-clip)')

    clipped.append('rect')
        .attr('width', panelW)
        .attr('height', panelH)
        .attr('fill', palette[0])

    const nx = 17, ny = 17
    const values = []
    for (let j = 0; j < ny; j++) {
        for (let i = 0; i < nx; i++) {
            const v = grid[j] ? grid[j][i] : undefined
            values.push(v === undefined ? 0.5 : v)
        }
    }
    const gridX = d3.scaleLinear().domain([0, nx]).range([0, panelW])
    const gridY = d3.scaleLinear().domain([0, ny]).range([0, panelH])
    // rounded rings, the source contours are much finer than this grid
    const ring = d3.line()
        .x(d => gridX(d[0]))
        .y(d => gridY(d[1]))
        .curve(d3.curveCatmullRomClosed.alpha(0.5))
    clipped.selectAll('.band')
        .data(d3.contours().size([nx, ny]).thresholds(levels)(values))
        .enter()
        .append('path')
            .attr('d', d => d.coordinates.map(poly => poly.map(r => ring(r.slice(0, -1))).join('')).join(''))
            .attr('fill-rule', 'evenodd')
            .attr('fill', d => palette[d.value])

    clipped.selectAll('.pocket')
        .data(pockets[row][col])
        .enter()
        .append('circle')
            .attr('cx', d => mapX(d[0]))
            .attr('cy', d => mapY(d[1]))
            .attr('r', d => mapX(d[2]))
            .attr('fill', d => palette[Math.floor(d[3])])

    if (row == 0) {
        clipped.append('path').attr('d', mapLine(missingCoarse) + 'Z').attr('fill', '#cccccc')
        clipped.append('path')
            .attr('d', mapLine(coastCoarse.concat([[204,204],[0,204]])) + 'Z')
            .attr('fill', '#fff')
        clipped.append('path').attr('d', mapLine(coastCoarse))
            .attr('fill', 'none').attr('stroke', '#000').attr('stroke-width', 1.4)
        clipped.selectAll('.island').data(islandsCoarse).enter().append('path')
            .attr('d', mapLine).attr('stroke', '#000').attr('stroke-width', 1.6)
    } else {
        clipped.selectAll('.missing').data(missingFine).enter().append('path')
            .attr('d', d => mapLine(d) + 'Z').attr('fill', '#cccccc')
        clipped.selectAll('.station').data(stations).enter().append('rect')
            .attr('x', d => mapX(d[0]))
            .attr('y', d => mapY(d[1]))
            .attr('width', d => mapX(d[2]) - mapX(d[0]))
            .attr('height', d => mapY(d[3]) - mapY(d[1]))
            .attr('fill', '#cccccc')
        clipped.append('path')
            .attr('d', mapLine(coastFineNorth) + 'Z').attr('fill', '#fff')
        clipped.append('path')
            .attr('d', mapLine(coastFineSouth.concat([[204,204],[0,204]])) + 'Z')
            .attr('fill', '#fff')
        clipped.selectAll('.coast').data([coastFineNorth, coastFineSouth]).enter().append('path')
            .attr('d', mapLine)
            .attr('fill', 'none').attr('stroke', '#000').attr('stroke-width', 1.4)
        clipped.selectAll('.island').data(islandsFine).enter().append('path')
            .attr('d', mapLine).attr('stroke', '#000').attr('stroke-width', 1.6)
    }

    clipped.append('path')
        .attr('d', mapLine(row == 0 ? trackCoarse : trackFine))
        .attr('fill', 'none')
        .attr('stroke', '#000')
        .attr('stroke-width', 1)
        .attr('stroke-dasharray', '2 1.3')

    g.append('rect')
        .attr('x', 154).attr('y', 161)
        .attr('width', 45).attr('height', 37)
        .attr('fill', '#fff')
        .attr('stroke', '#333')
        .attr('stroke-width', 1)
    g.append('text')
        .attr('x', 176.5).attr('y', 189)
        .attr('text-anchor', 'middle')
        .style('font-size', '25px')
        .text(days[col])

    g.append('rect')
        .attr('width', panelW)
        .attr('height', panelH)
        .attr('fill', 'none')
        .attr('stroke', '#000')
        .attr('stroke-width', 2.6)
}

fields.forEach((rowFields, r) => {
    svg.append('text')
        .attr('x', 632)
        .attr('y', titleY[r])
        .attr('text-anchor', 'middle')
        .style('font-size', '34.3px')
        .text(titles[r])
    rowFields.forEach((grid, c) => {
        const g = svg.append('g')
            .attr('transform', 'translate(' + panelLeft[r][c] + ',' + panelTop[r] + ')')
        drawPanel(g, grid, r, c)
    })
})

// colour bar
const barX = d3.scaleLinear().domain([0, 11]).range([116, 1148.5])
const barTop = 821, barH = 13.5
svg.selectAll('.bar').data(paletteBar).enter()
    .append('rect')
        .attr('x', (d, i) => barX(i))
        .attr('y', barTop)
        .attr('width', (d, i) => barX(i + 1) - barX(i))
        .attr('height', barH)
        .attr('fill', d => d)
        .attr('stroke', '#111')
        .attr('stroke-width', 1.2)
svg.selectAll('.barTick').data(barTicks).enter()
    .append('text')
        .attr('x', (d, i) => barX(i + 1))
        .attr('y', 852)
        .attr('text-anchor', 'middle')
        .style('font-size', '18px')
        .text(d => d)
svg.append('text')
    .attr('x', 632)
    .attr('y', 887)
    .attr('text-anchor', 'middle')
    .style('font-size', '42.5px')
    .text(barUnit)
</script>
</body>
</html>
